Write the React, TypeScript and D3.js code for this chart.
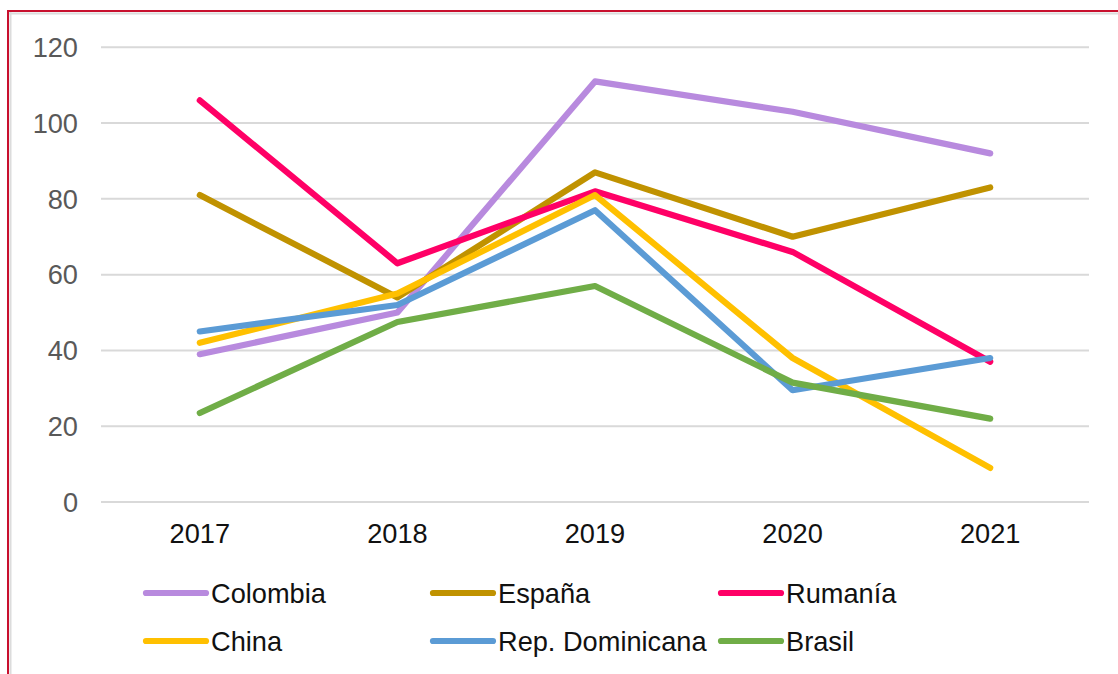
import React from "react";
import * as d3 from "d3";

const years = ["2017", "2018", "2019", "2020", "2021"];
const yTicks = [0, 20, 40, 60, 80, 100, 120];

const colombia = [39, 50, 111, 103, 92];
const espana = [81, 54, 87, 70, 83];
const rumania = [106, 63, 82, 66, 37];
const china = [42, 55, 81, 38, 9];
const repDominicana = [45, 52, 77, 29.5, 38];
const brasil = [23.5, 47.5, 57, 31.5, 22];

const seriesNames = ["Colombia", "España", "Rumanía", "China", "Rep. Dominicana", "Brasil"];
const seriesColors = ["#B88ADE", "#C09200", "#FF0066", "#FFC000", "#5B9BD5", "#70AD47"];
const seriesValues = [colombia, espana, rumania, china, repDominicana, brasil];

const drawOrder = [0, 1, 2, 3, 4, 5];

const W = 1118;
const H = 674;
const FONT = "'Liberation Sans', Arial, sans-serif";
const FS = 27.2;

export default function App() {
  const x = d3.scaleBand<string>().domain(years).range([101, 1089]);
  const y = d3.scaleLinear().domain([0, 120]).range([502, 47.3]);
  const line = d3
    .line<number>()
    .x((_, i) => (x(years[i]) as number) + x.bandwidth() / 2)
    .y((d) => y(d));

  const legendCols = [143, 430, 718];
  const legendRows = [593, 641];

  return (
    <div style={{ position: "absolute", left: 0, top: 0 }}>
      <svg width={W} height={H} style={{ display: "block", background: "#fff" }}>
        {/* border */}
        <line x1={8} x2={W} y1={13.5} y2={13.5} stroke="#dcdcdc" strokeWidth={2} />
        <line x1={10.5} x2={10.5} y1={12} y2={H} stroke="#dcdcdc" strokeWidth={2} />
        <line x1={7} x2={W} y1={11} y2={11} stroke="#C8102E" strokeWidth={2} />
        <line x1={8} x2={8} y1={10} y2={H} stroke="#C8102E" strokeWidth={2} />

        {/* grid */}
        {yTicks.map((t) => (
          <g key={t}>
            <line x1={101} x2={1089} y1={y(t)} y2={y(t)} stroke="#D9D9D9" strokeWidth={2} />
            <text
              x={78}
              y={y(t) + 9.7}
              textAnchor="end"
              fontFamily={FONT}
              fontSize={FS}
              fill="#595959"
            >
              {t}
            </text>
          </g>
        ))}

        {/* x labels */}
        {years.map((yr) => (
          <text
            key={yr}
            x={(x(yr) as number) + x.bandwidth() / 2}
            y={543}
            textAnchor="middle"
            fontFamily={FONT}
            fontSize={FS}
            fill="#111"
          >
            {yr}
          </text>
        ))}

        {/* lines */}
        {drawOrder.map((i) => (
          <path
            key={seriesNames[i]}
            d={line(seriesValues[i]) || ""}
            fill="none"
            stroke={seriesColors[i]}
            strokeWidth={6.2}
            strokeLinecap="round"
            strokeLinejoin="round"
          />
        ))}

        {/* legend */}
        {seriesNames.map((name, i) => {
          const cx = legendCols[i % 3];
          const cy = legendRows[Math.floor(i / 3)];
          return (
            <g key={name}>
              <line
                x1={cx + 3}
                x2={cx + 63}
                y1={cy}
                y2={cy}
                stroke={seriesColors[i]}
                strokeWidth={6.2}
                strokeLinecap="round"
              />
              <text x={cx + 68} y={cy + 9.7} fontFamily={FONT} fontSize={FS} fill="#111">
                {name}
              </text>
            </g>
          );
        })}
      </svg>
    </div>
  );
}
